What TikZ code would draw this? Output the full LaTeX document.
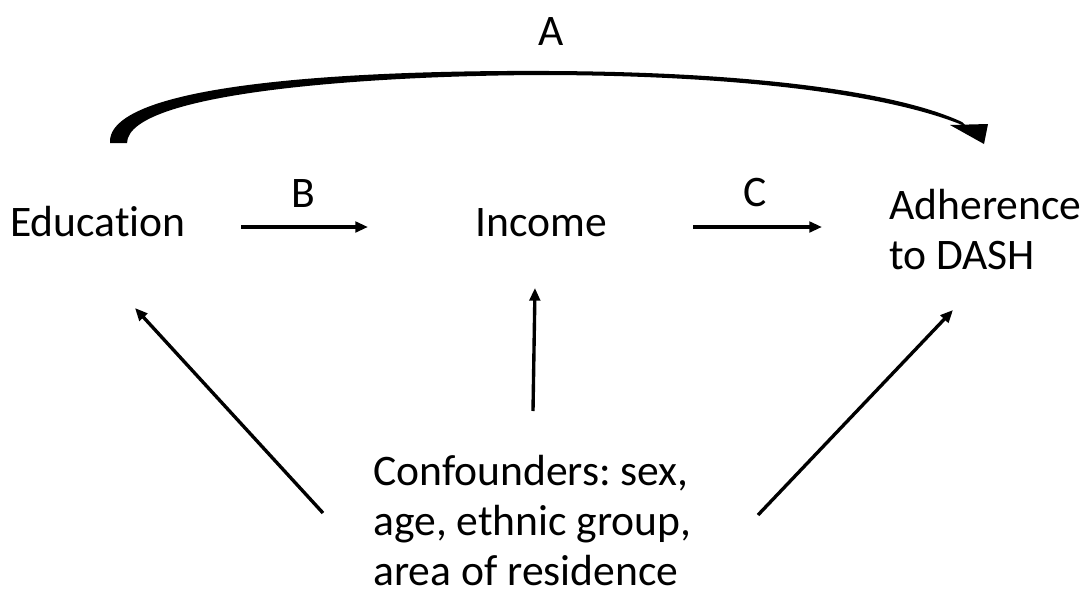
\documentclass[tikz,border=0pt]{standalone}
\usepackage{fontspec}
\setmainfont{Carlito}[Ligatures=NoCommon]
\frenchspacing
\usetikzlibrary{arrows.meta}

\tikzset{
  label/.style={inner sep=0pt, font=\fontsize{31}{35.5}\selectfont},
  link/.style={line width=2.4pt, -{Triangle[length=9pt,width=7.5pt]}}
}

\begin{document}
\begin{tikzpicture}[x=0.025cm,y=-0.025cm]
            \useasboundingbox (0,0) rectangle (1088,600);
            \node[label, anchor=base] (edu) at (98,236) {Education};
            \node[label, anchor=base] (inc) at (541,236) {Income};
            \node[label, anchor=base west, align=left] (dash) at (889,269) {Adherence\\to DASH};
            \node[label, anchor=base west, align=left] (conf) at (373,585) {Confounders: sex,\\age, ethnic group,\\area of residence};
            \node[label, anchor=base] (a) at (551,45) {A};
            \node[label, anchor=base] (b) at (303,207) {B};
            \node[label, anchor=base] (c) at (755,206) {C};
            % arrow ends
            \coordinate (bstart) at (241,227);
            \coordinate (bend) at (368,227);
            \coordinate (cstart) at (693,227);
            \coordinate (cend) at (822,227);
            \coordinate (istart) at (533,411);
            \coordinate (iend) at (535,288);
            \coordinate (lstart) at (323,513);
            \coordinate (lend) at (135,308);
            \coordinate (rstart) at (758,515);
            \coordinate (rend) at (953,310);
            \draw[link] (bstart) -- (bend);
            \draw[link] (cstart) -- (cend);
            \draw[link] (istart) -- (iend);
            \draw[link] (lstart) -- (lend);
            \draw[link] (rstart) -- (rend);
            % curved arrow A
            \fill (110,143) .. controls (106,80) and (380,70) .. (550,71) .. controls (760,72) and (900,93) .. (962,122)
                -- (967,127) .. controls (900,98) and (760,76) .. (550,75) .. controls (390,75) and (128,90) .. (127,143) -- cycle;
            \fill (950,125) -- (988,124) -- (984,144) -- cycle;
        \end{tikzpicture}
\end{document}
